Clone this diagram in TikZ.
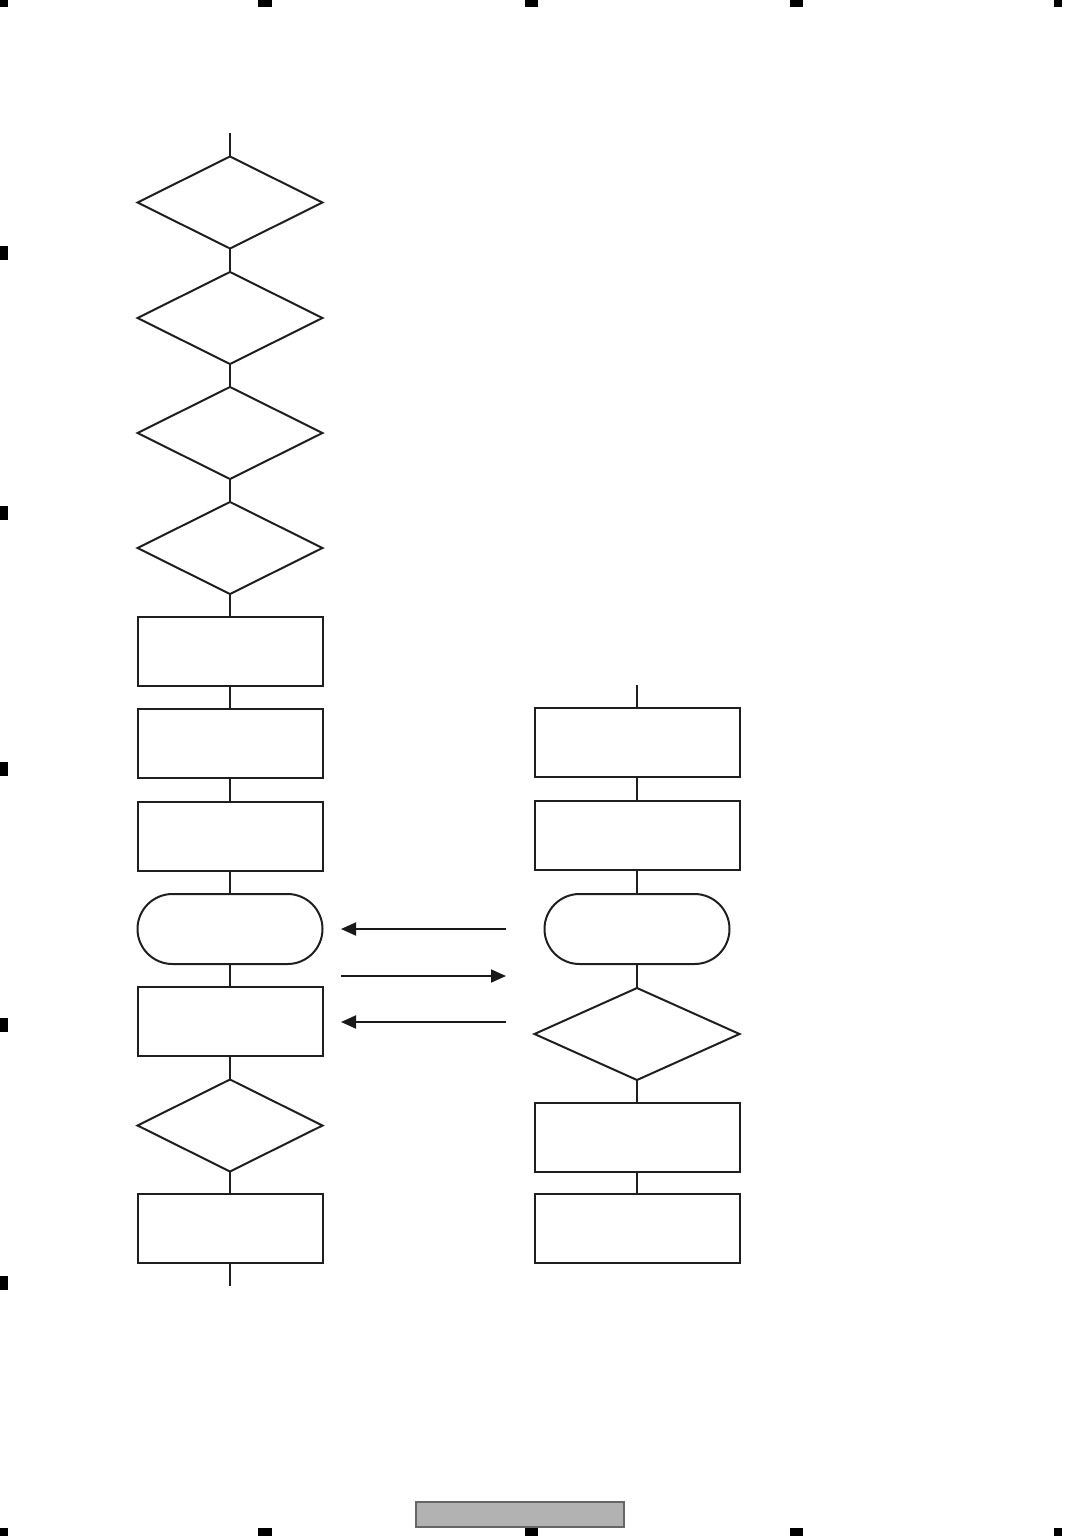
\documentclass[tikz,border=0pt]{standalone}
\usetikzlibrary{shapes.geometric,arrows.meta}
\begin{document}
\begin{tikzpicture}[x=0.5pt,y=-0.5pt,
  every node/.style={draw=black!88, line width=1pt, inner sep=0pt, outer sep=0pt},
  dec/.style={diamond, minimum width=92.5pt, minimum height=46pt, aspect=2},
  decr/.style={diamond, minimum width=102.5pt, minimum height=46pt, aspect=2},
  boxl/.style={rectangle, minimum width=92.5pt, minimum height=34.5pt},
  boxr/.style={rectangle, minimum width=102.5pt, minimum height=34.5pt},
  term/.style={rectangle, rounded corners=17.5pt, minimum width=92.5pt, minimum height=35pt},
  link/.style={draw=black!88, line width=1pt},
  arr/.style={draw=black!90, line width=1pt, -{Triangle[length=7.5pt,width=6.5pt]}}]
\useasboundingbox (0,0) rectangle (1065,1536);
% registration marks
\foreach \xa/\xb in {0/8,258/272,525/538,790/803,1054/1062}{
  \fill[black] (\xa,0) rectangle (\xb,7);
  \fill[black] (\xa,1528) rectangle (\xb,1536);
}
\foreach \ya/\yb in {246/260,506/520,762/776,1018/1032,1276/1290}{
  \fill[black] (0,\ya) rectangle (8,\yb);
}
% footer box
\draw[fill=black!30, draw=black!60, line width=0.7pt] (416,1502) rectangle (624,1527);
% left column
\coordinate (ltop) at (230,133);
\node[dec] (d1) at (230,202.5) {};
\node[dec] (d2) at (230,318) {};
\node[dec] (d3) at (230,433) {};
\node[dec] (d4) at (230,548) {};
\node[boxl] (b1) at (230,651.5) {};
\node[boxl] (b2) at (230,743.5) {};
\node[boxl] (b3) at (230,836.5) {};
\node[term] (t1) at (230,929) {};
\node[boxl] (b4) at (230,1021.5) {};
\node[dec] (d5) at (230,1125.5) {};
\node[boxl] (b5) at (230,1228.5) {};
\coordinate (lbot) at (230,1286);
\draw[link] (ltop) -- (d1.north);
\draw[link] (d1.south) -- (d2.north);
\draw[link] (d2.south) -- (d3.north);
\draw[link] (d3.south) -- (d4.north);
\draw[link] (d4.south) -- (b1.north);
\draw[link] (b1.south) -- (b2.north);
\draw[link] (b2.south) -- (b3.north);
\draw[link] (b3.south) -- (t1.north);
\draw[link] (t1.south) -- (b4.north);
\draw[link] (b4.south) -- (d5.north);
\draw[link] (d5.south) -- (b5.north);
\draw[link] (b5.south) -- (lbot);
% right column
\coordinate (rtop) at (637,685);
\node[boxr] (r1) at (637,742.5) {};
\node[boxr] (r2) at (637,835.5) {};
\node[term] (t2) at (637,929) {};
\node[decr] (rd) at (637,1034) {};
\node[boxr] (r3) at (637,1137.5) {};
\node[boxr] (r4) at (637,1228.5) {};
\draw[link] (rtop) -- (r1.north);
\draw[link] (r1.south) -- (r2.north);
\draw[link] (r2.south) -- (t2.north);
\draw[link] (t2.south) -- (rd.north);
\draw[link] (rd.south) -- (r3.north);
\draw[link] (r3.south) -- (r4.north);
% arrows between columns
\coordinate (a1s) at (506,929);
\coordinate (a1e) at (341,929);
\coordinate (a2s) at (341,976);
\coordinate (a2e) at (506,976);
\coordinate (a3s) at (506,1022);
\coordinate (a3e) at (341,1022);
\draw[arr] (a1s) -- (a1e);
\draw[arr] (a2s) -- (a2e);
\draw[arr] (a3s) -- (a3e);
\end{tikzpicture}
\end{document}
